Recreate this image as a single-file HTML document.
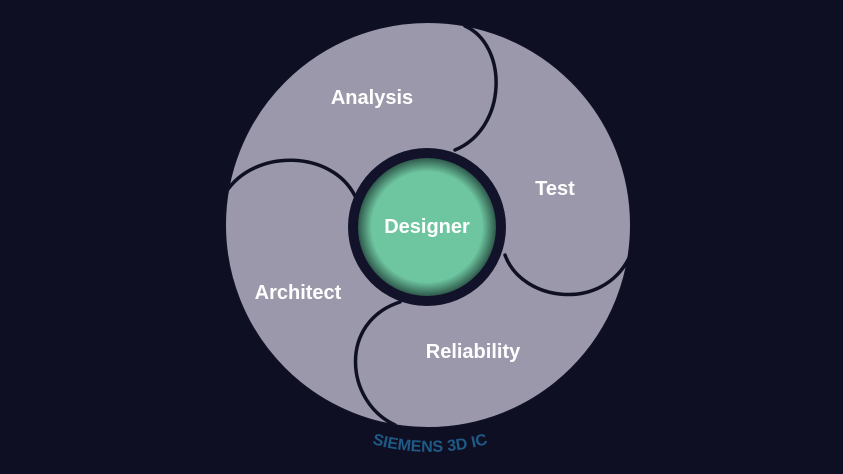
<!DOCTYPE html>
<html><head><meta charset="utf-8"><style>
html,body{margin:0;padding:0;background:#0f0f24;}
svg{display:block}
</style></head><body>
<svg width="843" height="474" viewBox="0 0 843 474" xmlns="http://www.w3.org/2000/svg">
<defs>
<radialGradient id="g" cx="50%" cy="50%" r="50%">
<stop offset="0.8" stop-color="#6ec6a0"/>
<stop offset="1" stop-color="#2f5a4c"/>
</radialGradient>
<path id="arc" d="M290,400 A215,215 0 0 0 570,400"/>
</defs>
<rect width="843" height="474" fill="#0f0f24"/>
<circle cx="428" cy="225" r="203" fill="#9a98aa" stroke="#0f1024" stroke-width="2"/>
<g fill="none" stroke="#0f1024" stroke-width="3.5" stroke-linecap="round">
<path d="M465,26 C508,45 508,128 455,150"/>
<path d="M226,192 C255,148 332,150 355,196"/>
<path d="M505,255 C522,302 602,312 629,258"/>
<path d="M400,302 C338,322 345,402 395,425"/>
</g>
<circle cx="427" cy="227" r="79" fill="#12132a"/>
<circle cx="427" cy="227" r="69" fill="url(#g)"/>
<g font-family="Liberation Sans, sans-serif" font-weight="bold" font-size="20" fill="#ffffff" text-anchor="middle">
<text x="372" y="104">Analysis</text>
<text x="555" y="195">Test</text>
<text x="427" y="233">Designer</text>
<text x="298" y="299">Architect</text>
<text x="473" y="358">Reliability</text>
</g>
<text font-family="Liberation Sans, sans-serif" font-weight="bold" font-size="16" fill="#1e5a85" text-anchor="middle"><textPath href="#arc" startOffset="50%">SIEMENS 3D IC</textPath></text>
</svg>
</body></html>
